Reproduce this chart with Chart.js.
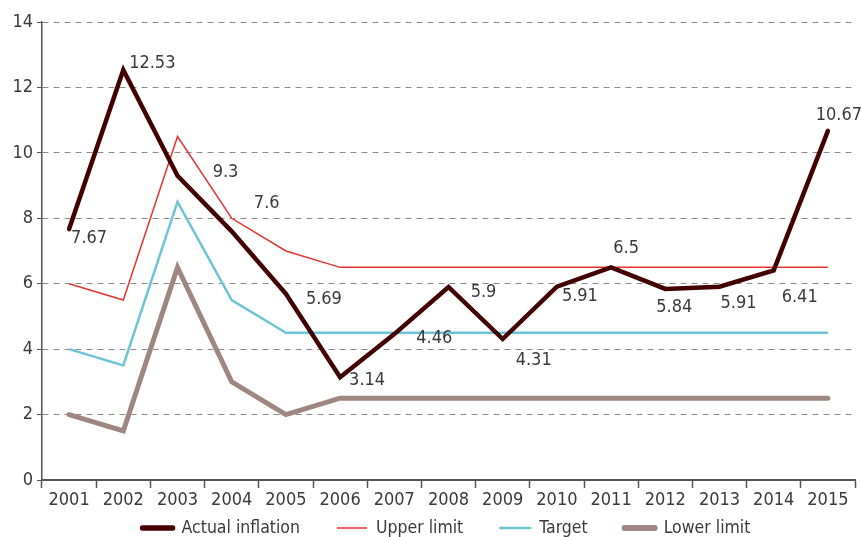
<!DOCTYPE html>
<html>
<head>
<meta charset="utf-8">
<script src="https://cdn.jsdelivr.net/npm/chart.js@4"></script>
<style>
  html, body { margin: 0; padding: 0; background: #fff; }
  #wrap { width: 861px; height: 537px; }
</style>
</head>
<body>
<div id="wrap"><canvas id="inflationChart"></canvas></div>
<script>
const years = ['2001', '2002', '2003', '2004', '2005', '2006', '2007', '2008', '2009', '2010', '2011', '2012', '2013', '2014', '2015'];
const actualInflation = [7.67, 12.53, 9.3, 7.6, 5.69, 3.14, 4.46, 5.9, 4.31, 5.91, 6.5, 5.84, 5.91, 6.41, 10.67];
const upperLimit = [6, 5.5, 10.5, 8, 7, 6.5, 6.5, 6.5, 6.5, 6.5, 6.5, 6.5, 6.5, 6.5, 6.5];
const target = [4, 3.5, 8.5, 5.5, 4.5, 4.5, 4.5, 4.5, 4.5, 4.5, 4.5, 4.5, 4.5, 4.5, 4.5];
const lowerLimit = [2, 1.5, 6.5, 3, 2, 2.5, 2.5, 2.5, 2.5, 2.5, 2.5, 2.5, 2.5, 2.5, 2.5];

// where each value label sits relative to its point (px)
const labelOffsets = [[20, 9], [29, -7], [48, -3], [35, -28], [38, 5], [27, 3], [40, 4], [35, 5],
    [31, 21], [23, 10], [15, -19], [9, 18], [19, 17], [26, 27], [11, -16]];

const fontFamily = "'Liberation Sans Narrow', 'DejaVu Sans Condensed', 'Roboto', sans-serif";
const textColor = '#3a3a3a';
const axisColor = '#555';

// value labels on the actual inflation line
const valueLabels = {
    id: 'valueLabels',
    afterDatasetsDraw(chart) {
        const meta = chart.getDatasetMeta(0);
        const c = chart.ctx;
        c.save();
        c.font = '18px ' + fontFamily;
        c.fillStyle = textColor;
        c.textAlign = 'center';
        c.textBaseline = 'middle';
        meta.data.forEach((pt, i) => {
            const off = labelOffsets[i];
            c.fillText(String(actualInflation[i]), pt.x + off[0], pt.y + off[1]);
        });
        c.restore();
    }
};

// bottom legend, drawn by hand so the item gaps can be wider than the row height
const bottomLegend = {
    id: 'bottomLegend',
    afterDraw(chart) {
        const c = chart.ctx;
        const sw = 34, textGap = 7, itemGap = 35, y = 528;
        c.save();
        c.font = '17.5px ' + fontFamily;
        c.textBaseline = 'middle';
        const items = chart.data.datasets.map(ds => ({ ds, w: c.measureText(ds.label).width }));
        const total = items.reduce((s, it) => s + sw + textGap + it.w, 0) + itemGap * (items.length - 1);
        let x = (chart.chartArea.left + chart.chartArea.right) / 2 - total / 2 - 3;
        items.forEach(it => {
            c.strokeStyle = it.ds.borderColor;
            c.lineWidth = Math.max(it.ds.borderWidth, 1.5) + (it.ds.borderWidth > 4 ? 1 : 0);
            c.lineCap = it.ds.borderWidth > 2 ? 'round' : 'butt';
            c.beginPath();
            c.moveTo(x + 2, y);
            c.lineTo(x + sw - 2, y);
            c.stroke();
            x += sw + textGap;
            c.fillStyle = textColor;
            c.fillText(it.ds.label, x, y);
            x += it.w + itemGap;
        });
        c.restore();
    }
};

const ctx = document.getElementById('inflationChart').getContext('2d');

const inflationChart = new Chart(ctx, {
    type: 'line',
    data: {
        labels: years,
        datasets: [{
            label: 'Actual inflation',
            data: actualInflation,
            borderColor: '#420000',
            borderWidth: 4.5,
            pointRadius: 0,
            borderCapStyle: 'round',
            tension: 0,
            order: 0
        }, {
            label: 'Upper limit',
            data: upperLimit,
            borderColor: '#e8322e',
            borderWidth: 1.5,
            pointRadius: 0,
            tension: 0,
            order: 3
        }, {
            label: 'Target',
            data: target,
            borderColor: '#6cc4d6',
            borderWidth: 2.5,
            pointRadius: 0,
            tension: 0,
            order: 2
        }, {
            label: 'Lower limit',
            data: lowerLimit,
            borderColor: '#9e8780',
            borderWidth: 5,
            pointRadius: 0,
            borderCapStyle: 'round',
            tension: 0,
            order: 1
        }]
    },
    options: {
        responsive: true,
        maintainAspectRatio: false,
        animation: false,
        layout: { padding: { top: 22, right: 6, left: 0, bottom: 25 } },
        plugins: {
            tooltip: { enabled: false },
            legend: { display: false }
        },
        scales: {
            x: {
                offset: true,
                afterFit(scale) { scale.height = 32; },
                grid: {
                    offset: true,
                    drawOnChartArea: false,
                    tickLength: 8,
                    tickColor: axisColor,
                    tickWidth: 1.5
                },
                border: { display: true, color: axisColor, width: 2 },
                ticks: {
                    color: textColor,
                    font: { family: fontFamily, size: 18 },
                    padding: 2,
                    maxRotation: 0,
                    autoSkip: false
                }
            },
            y: {
                min: 0,
                max: 14,
                afterFit(scale) { scale.width = 42; },
                ticks: {
                    stepSize: 2,
                    color: textColor,
                    font: { family: fontFamily, size: 18 },
                    padding: 4
                },
                grid: {
                    color: '#8a8a8a',
                    lineWidth: 1,
                    tickLength: 5,
                    tickColor: axisColor
                },
                border: { display: true, color: axisColor, width: 1.5, dash: [6, 5] }
            }
        }
    },
    plugins: [valueLabels, bottomLegend]
});
</script>
</body>
</html>
